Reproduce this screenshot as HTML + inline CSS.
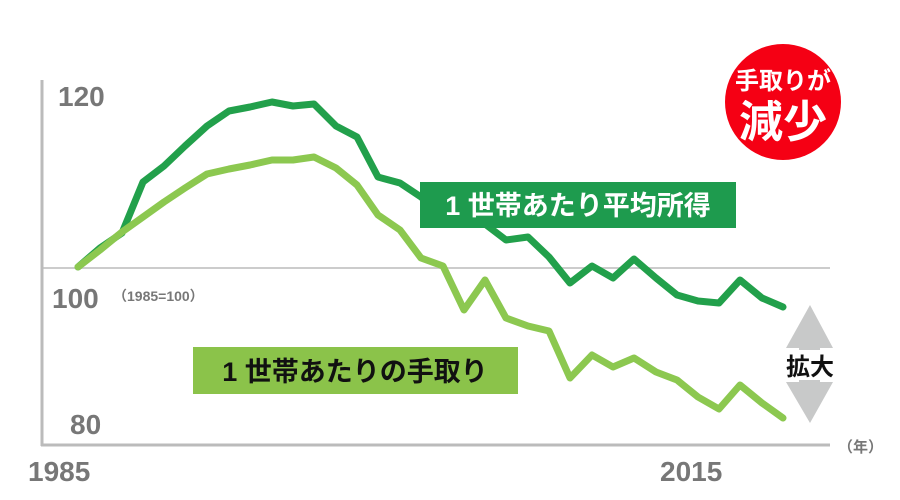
<!DOCTYPE html>
<html><head><meta charset="utf-8"><style>
body{margin:0;background:#fff;}
svg{display:block;font-family:"Liberation Sans","Noto Sans CJK JP",sans-serif;}
</style></head><body>
<svg width="900" height="500" viewBox="0 0 900 500">
<line x1="42" y1="268" x2="830" y2="268" stroke="#ccc" stroke-width="2"/>
<line x1="42" y1="80" x2="42" y2="446" stroke="#bbb" stroke-width="3"/>
<line x1="41" y1="445" x2="830" y2="445" stroke="#bbb" stroke-width="3"/>
<text x="58" y="106" font-size="28" font-weight="bold" fill="#777">120</text>
<text x="52" y="308" font-size="28" font-weight="bold" fill="#777">100</text>
<text x="113" y="301" font-size="14" font-weight="bold" fill="#777">（1985=100）</text>
<text x="70" y="434" font-size="28" font-weight="bold" fill="#777">80</text>
<text x="28" y="481" font-size="28" font-weight="bold" fill="#777">1985</text>
<text x="660" y="481" font-size="28" font-weight="bold" fill="#777">2015</text>
<text x="838" y="452" font-size="15" font-weight="bold" fill="#777">（年）</text>
<polyline fill="none" stroke="#22a04b" stroke-width="7" stroke-linejoin="round" stroke-linecap="round" points="78,267 100,248 122,233 143,182 164,166 185,146 207,126 229,111 250,107 272,102 293,106 314,104 336,126 357,137 378,177 400,183 421,197 443,213 464,220 485,224 506,240 528,237 549,257 570,283 592,266 613,278 634,259 656,278 677,295 698,301 719,303 740,280 762,298 783,307"/>
<polyline fill="none" stroke="#8cc850" stroke-width="7" stroke-linejoin="round" stroke-linecap="round" points="78,267 100,250 122,232 143,217 164,202 185,188 207,174 229,169 250,165 272,160 293,160 314,157 336,168 357,185 378,215 400,230 421,258 443,266 464,310 485,280 506,318 528,326 549,331 570,378 592,355 613,367 634,358 656,372 677,380 698,397 719,409 740,385 762,403 783,418"/>
<rect x="420" y="182" width="316" height="46" fill="#1e9b4e"/>
<text x="578" y="215" font-size="27" font-weight="bold" fill="#fff" text-anchor="middle">1 世帯あたり平均所得</text>
<rect x="193" y="347" width="325" height="47" fill="#8bc34a"/>
<text x="355" y="381" font-size="27" font-weight="bold" fill="#111" text-anchor="middle">1 世帯あたりの手取り</text>
<polygon points="810,305 833,348 820,348 820,382 833,382 810,423 786,382 799,382 799,348 786,348" fill="#c8c9c9"/>
<rect x="782" y="350" width="56" height="30" fill="#fff"/>
<text x="810" y="375" font-size="24" font-weight="bold" fill="#111" text-anchor="middle">拡大</text>
<circle cx="783" cy="102" r="58" fill="#f50014"/>
<text x="783" y="89" font-size="24" font-weight="bold" fill="#fff" text-anchor="middle">手取りが</text>
<text x="783" y="137" font-size="44" font-weight="bold" fill="#fff" text-anchor="middle">減少</text>
</svg>
</body></html>
